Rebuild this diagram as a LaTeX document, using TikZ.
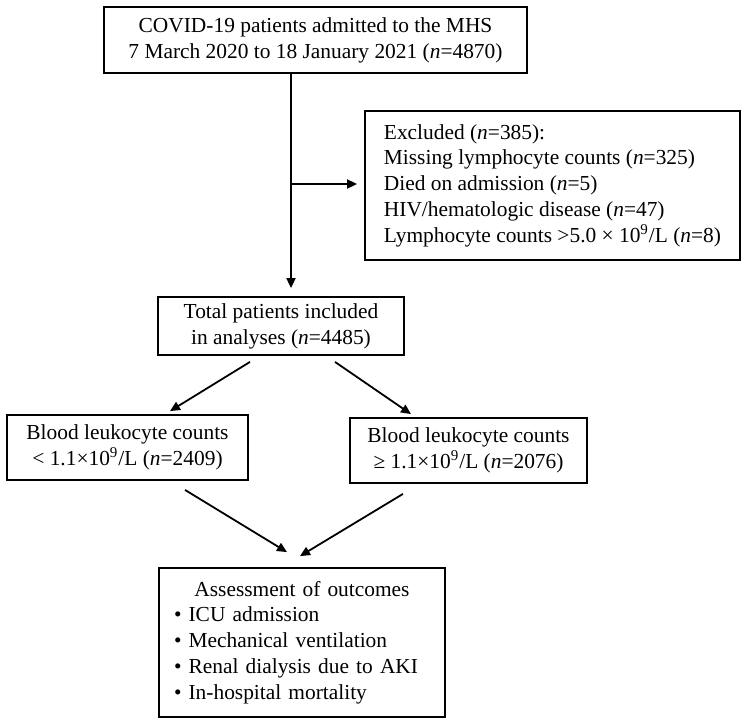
\documentclass[tikz,border=0pt]{standalone}
\usepackage{fontspec}
\setmainfont{Liberation Serif}
\usepackage{tikz}
\usetikzlibrary{arrows.meta}
\tikzset{
    % Boxes
    flowbox/.style={ rectangle, draw=black, line width=0.9pt, align=center, inner sep=0pt, font=\fontsize{10.7}{12.9}\selectfont },
    listbox/.style={ flowbox, align=left },
    % Connectors
    arrow/.style={ -{Triangle[length=5pt, width=4.5pt]}, draw=black, line width=0.9pt },
}

\begin{document}
\begin{tikzpicture}[x=0.5pt, y=-0.5pt]
    \useasboundingbox (0,0) rectangle (750,724);

    % Cohort and exclusions
    \node[flowbox, minimum width=211.5pt, minimum height=33pt] (admitted) at (315.5,40)
        {COVID-19 patients admitted to the MHS\\7 March 2020 to 18 January 2021 (\textit{n}=4870)};
    \node[listbox, minimum width=187.5pt, minimum height=74.5pt] (excluded) at (552.5,185.5)
        {Excluded (\textit{n}=385):\\
         Missing lymphocyte counts (\textit{n}=325)\\
         Died on admission (\textit{n}=5)\\
         HIV/hematologic disease (\textit{n}=47)\\
         Lymphocyte counts >5.0 × 10\textsuperscript{9}/L (\textit{n}=8)};
    \node[flowbox, minimum width=123pt, minimum height=29pt] (included) at (281,326)
        {Total patients included\\in analyses (\textit{n}=4485)};
    \coordinate (split) at (291,184);

    \draw[arrow, shorten >=4pt] (admitted.south -| split) to (included.north -| split);
    \draw[arrow, shorten >=3.5pt] (split) to (excluded.west |- split);

    % Leukocyte groups
    \node[flowbox, minimum width=120.5pt, minimum height=32.5pt] (low) at (127.5,447.5)
        {Blood leukocyte counts\\< 1.1×10\textsuperscript{9}/L (\textit{n}=2409)};
    \node[flowbox, minimum width=118.5pt, minimum height=32.5pt] (high) at (468.5,450.5)
        {Blood leukocyte counts\\≥ 1.1×10\textsuperscript{9}/L (\textit{n}=2076)};

    \draw[arrow] ([xshift=-15.5pt, yshift=-3pt] included.south) to ([xshift=21.25pt, yshift=1.5pt] low.north);
    \draw[arrow] ([xshift=27pt, yshift=-3pt] included.south) to ([xshift=-28.75pt, yshift=1.5pt] high.north);

    % Outcomes
    \node[listbox, text width=128pt, inner xsep=7.5pt, minimum height=74.5pt] (outcomes) at (302,642.5)
        {\hfill Assessment of outcomes\hfill\null\\
         \textbullet\ ICU admission\\
         \textbullet\ Mechanical ventilation\\
         \textbullet\ Renal dialysis due to AKI\\
         \textbullet\ In-hospital mortality};

    \draw[arrow] ([xshift=28.75pt, yshift=-4.5pt] low.south) to ([xshift=-7.5pt, yshift=7.5pt] outcomes.north);
    \draw[arrow] ([xshift=-32.75pt, yshift=-5pt] high.south) to ([xshift=-1pt, yshift=5.5pt] outcomes.north);
\end{tikzpicture}
\end{document}
